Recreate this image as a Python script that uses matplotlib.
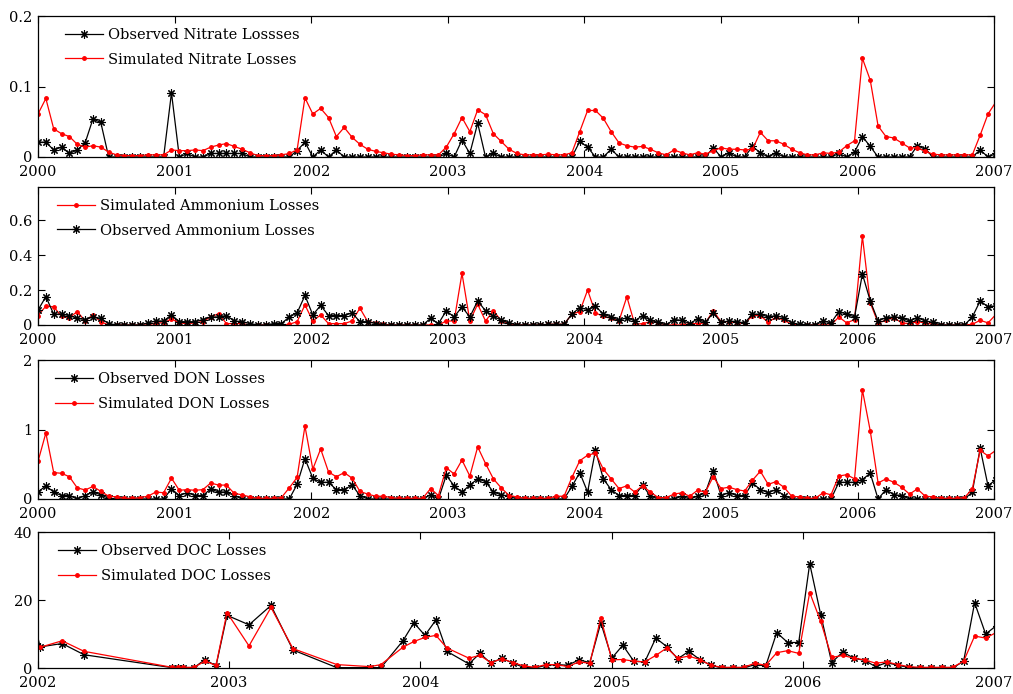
import numpy as np
import pandas as pd
import matplotlib
matplotlib.use('Agg')
import matplotlib.pyplot as plt
import matplotlib.dates as mdates

# samples every 21 days from 2000-01-01 (index k = 0..122)
start = pd.Timestamp('2000-01-01')
grid = pd.date_range(start, periods=123, freq='21D')

nitrate_obs = [
    0.021, 0.021, 0.010, 0.014, 0.005, 0.010, 0.020, 0.054, 0.049, 0,
    0, 0, 0, 0, 0, 0, 0, 0.091, 0, 0.005,
    0, 0, 0.005, 0.005, 0.005, 0.005, 0.005, 0, 0, 0,
    0, 0, 0, 0.009, 0.021, 0, 0.010, 0, 0.010, 0,
    0, 0, 0, 0, 0, 0, 0, 0, 0, 0,
    0, 0, 0.005, 0, 0.024, 0.005, 0.048, 0, 0.005, 0,
    0, 0, 0, 0, 0, 0, 0, 0, 0, 0.022,
    0.014, 0, 0, 0.011, 0, 0, 0, 0, 0, 0,
    0, 0, 0, 0, 0, 0, 0.013, 0, 0.006, 0,
    0, 0.015, 0.006, 0, 0.006, 0, 0, 0, 0, 0,
    0, 0, 0.005, 0, 0.007, 0.029, 0.015, 0, 0, 0,
    0, 0, 0.016, 0.011, 0, 0, 0, 0, 0, 0,
    0.010, 0, 0.005]
nitrate_sim = [
    0.061, 0.083, 0.040, 0.033, 0.029, 0.018, 0.014, 0.016, 0.014, 0.007,
    0.003, 0.002, 0.002, 0.002, 0.003, 0.003, 0.003, 0.010, 0.009, 0.009,
    0.010, 0.009, 0.014, 0.017, 0.019, 0.015, 0.011, 0.006, 0.002, 0.002,
    0.002, 0.003, 0.005, 0.010, 0.084, 0.061, 0.069, 0.056, 0.029, 0.042,
    0.028, 0.018, 0.011, 0.008, 0.006, 0.004, 0.003, 0.002, 0.002, 0.003,
    0.003, 0.003, 0.014, 0.033, 0.056, 0.036, 0.067, 0.060, 0.033, 0.022,
    0.011, 0.005, 0.003, 0.003, 0.003, 0.004, 0.003, 0.003, 0.006, 0.036,
    0.066, 0.066, 0.055, 0.036, 0.020, 0.016, 0.014, 0.015, 0.011, 0.006,
    0.003, 0.010, 0.006, 0.003, 0.006, 0.004, 0.009, 0.013, 0.011, 0.011,
    0.010, 0.011, 0.035, 0.023, 0.023, 0.018, 0.011, 0.006, 0.003, 0.003,
    0.006, 0.005, 0.007, 0.016, 0.023, 0.140, 0.109, 0.044, 0.029, 0.027,
    0.020, 0.013, 0.013, 0.008, 0.004, 0.003, 0.003, 0.003, 0.003, 0.003,
    0.031, 0.061, 0.078]

ammonium_sim = [
    0.054, 0.108, 0.104, 0.050, 0.042, 0.077, 0.023, 0.058, 0.019, 0,
    0, 0, 0, 0, 0, 0.012, 0.012, 0.035, 0.012, 0.008,
    0.012, 0.020, 0.046, 0.065, 0.008, 0.008, 0.008, 0, 0, 0,
    0, 0, 0.004, 0.019, 0.115, 0.023, 0.058, 0.008, 0.008, 0.008,
    0.023, 0.096, 0.019, 0.012, 0.004, 0, 0, 0, 0, 0,
    0, 0, 0.023, 0.023, 0.296, 0.023, 0.119, 0.023, 0.081, 0.025,
    0.008, 0, 0, 0, 0, 0.004, 0.004, 0.004, 0.062, 0.077,
    0.200, 0.069, 0.050, 0.038, 0.023, 0.162, 0.004, 0.008, 0.019, 0.012,
    0, 0, 0, 0.008, 0.008, 0.012, 0.081, 0.019, 0.019, 0.012,
    0.008, 0.054, 0.054, 0.015, 0.046, 0.027, 0.004, 0, 0, 0,
    0, 0, 0.046, 0.012, 0.031, 0.508, 0.127, 0.012, 0.027, 0.042,
    0.012, 0.008, 0.019, 0.012, 0.004, 0, 0, 0, 0, 0.004,
    0.027, 0.012, 0.060]
ammonium_obs = [
    0.085, 0.162, 0.062, 0.062, 0.054, 0.038, 0.031, 0.046, 0.038, 0.008,
    0, 0, 0, 0, 0.012, 0.023, 0.023, 0.058, 0.019, 0.019,
    0.019, 0.031, 0.046, 0.046, 0.054, 0.023, 0.019, 0.008, 0, 0,
    0.008, 0.008, 0.046, 0.069, 0.169, 0.058, 0.112, 0.054, 0.054, 0.054,
    0.069, 0.019, 0.019, 0.008, 0, 0, 0, 0, 0, 0,
    0.038, 0.008, 0.081, 0.046, 0.104, 0.046, 0.138, 0.081, 0.050, 0.027,
    0.012, 0, 0, 0, 0, 0.004, 0.004, 0.004, 0.062, 0.100,
    0.088, 0.108, 0.062, 0.046, 0.027, 0.042, 0.023, 0.054, 0.027, 0.015,
    0, 0.031, 0.027, 0.008, 0.035, 0.015, 0.069, 0.015, 0.023, 0.019,
    0.012, 0.062, 0.062, 0.046, 0.054, 0.042, 0.012, 0.004, 0, 0,
    0.023, 0.012, 0.077, 0.062, 0.046, 0.292, 0.138, 0.023, 0.042, 0.046,
    0.042, 0.023, 0.042, 0.023, 0.015, 0, 0, 0, 0, 0.046,
    0.138, 0.104, 0.110]

don_obs = [
    0.10, 0.19, 0.10, 0.05, 0.05, 0.0, 0.05, 0.10, 0.06, 0.01,
    0, 0, 0, 0, 0, 0, 0, 0.145, 0.05, 0.09,
    0.05, 0.05, 0.145, 0.10, 0.10, 0.05, 0, 0, 0, 0,
    0, 0, 0, 0.21, 0.58, 0.30, 0.24, 0.24, 0.135, 0.135,
    0.20, 0.05, 0, 0, 0, 0, 0, 0, 0, 0,
    0.06, 0, 0.34, 0.19, 0.10, 0.20, 0.29, 0.25, 0.10, 0.06,
    0.04, 0, 0, 0, 0, 0, 0, 0, 0.18, 0.38,
    0.10, 0.70, 0.29, 0.135, 0.05, 0.05, 0.05, 0.20, 0.04, 0,
    0, 0, 0.04, 0, 0.04, 0.09, 0.41, 0.05, 0.09, 0.05,
    0.05, 0.23, 0.135, 0.09, 0.135, 0.05, 0, 0, 0, 0,
    0, 0, 0.24, 0.24, 0.24, 0.28, 0.37, 0, 0.135, 0.06,
    0.05, 0, 0, 0, 0, 0, 0, 0, 0, 0.10,
    0.73, 0.19, 0.28]
don_sim = [
    0.54, 0.95, 0.38, 0.37, 0.32, 0.16, 0.13, 0.18, 0.11, 0.04,
    0.03, 0.01, 0.01, 0.02, 0.04, 0.10, 0.09, 0.30, 0.125, 0.135,
    0.125, 0.135, 0.23, 0.20, 0.20, 0.08, 0.06, 0.03, 0.01, 0.01,
    0.01, 0.02, 0.16, 0.31, 1.05, 0.43, 0.72, 0.39, 0.32, 0.38,
    0.30, 0.11, 0.07, 0.04, 0.04, 0.02, 0.01, 0.01, 0.01, 0.01,
    0.15, 0.05, 0.45, 0.36, 0.56, 0.33, 0.75, 0.51, 0.29, 0.16,
    0.05, 0.03, 0.01, 0.01, 0.01, 0.01, 0.04, 0.04, 0.31, 0.55,
    0.63, 0.66, 0.43, 0.29, 0.15, 0.19, 0.10, 0.19, 0.10, 0.02,
    0.02, 0.07, 0.09, 0.04, 0.125, 0.10, 0.32, 0.15, 0.17, 0.135,
    0.115, 0.27, 0.40, 0.21, 0.25, 0.17, 0.04, 0.03, 0.01, 0.01,
    0.09, 0.06, 0.33, 0.35, 0.29, 1.57, 0.98, 0.23, 0.29, 0.24,
    0.17, 0.07, 0.145, 0.04, 0.03, 0.01, 0.01, 0.01, 0.02, 0.145,
    0.70, 0.62, 0.70]

# DOC was sampled less often in 2002-2003 (sample index on the same 21-day schedule)
doc_k = [34, 35, 37, 39, 47, 47.5, 48, 49, 50, 51, 52, 54, 56, 58, 62, 65, 66, 68,
         69, 70, 71, 72] + list(range(74, 123))
doc_obs = [
    20.0, 6.2, 7.2, 3.9, 0.1, 0.1, 0.1, 0.1, 2.5, 0.6, 15.5, 12.7, 18.4, 5.3, 0.1, 0.1, 0.1, 8.0,
    13.3, 9.6, 14.1, 4.9,
    1.2, 4.3, 1.4, 2.9, 1.4, 0.2, 0, 0.8, 1.0, 0.8,
    2.4, 1.6, 13.3, 2.9, 6.7, 2.0, 1.8, 8.8, 6.3, 2.7,
    4.9, 2.5, 0.8, 0, 0, 0, 1.0, 0.6, 10.4, 7.5,
    7.5, 30.7, 15.7, 1.6, 4.7, 2.9, 2.2, 0.4, 1.6, 0.8,
    0.2, 0, 0, 0, 0, 2.0, 19.2, 10.0, 12.5]
doc_sim = [
    6.5, 6.1, 8.0, 4.9, 0.2, 0.2, 0.2, 0.2, 2.0, 0.8, 16.3, 6.5, 17.8, 5.7, 1.0, 0.4, 1.0, 6.1,
    7.8, 9.0, 9.6, 5.9,
    2.9, 3.7, 1.6, 2.7, 1.6, 0.6, 0.2, 1.0, 1.0, 0.4,
    1.8, 1.4, 14.7, 2.4, 2.5, 2.0, 1.8, 3.7, 5.9, 2.9,
    3.5, 2.5, 0.8, 0.2, 0.2, 0.2, 1.4, 0.8, 4.5, 5.1,
    4.3, 22.2, 13.7, 3.1, 3.7, 2.9, 2.4, 1.4, 1.8, 1.0,
    0.4, 0.2, 0.2, 0.2, 0.2, 2.0, 9.4, 8.8, 10.5]
doc_dates = start + pd.to_timedelta(np.array(doc_k) * 21, unit='D')

plt.rcParams['font.family'] = 'DejaVu Serif'
FS = 10.5

fig = plt.figure(figsize=(10.13, 6.94), dpi=100)
W, H = 1013.0, 694.0
left, right = 38, 994
boxes = [(16, 157), (187, 325), (360, 499), (532, 668)]
axes = [fig.add_axes([left / W, 1 - b / H, (right - left) / W, (b - t) / H]) for t, b in boxes]

# matlab-like asterisk for observed, small dot for simulated
obs_kw = dict(color='black', marker=(8, 2, 0), markersize=6, markeredgewidth=0.8, lw=0.9)
sim_kw = dict(color='red', marker='.', markersize=5, lw=0.9)

ax = axes[0]
ax.plot(grid, nitrate_obs, label='Observed Nitrate Lossses', **obs_kw)
ax.plot(grid, nitrate_sim, label='Simulated Nitrate Losses', **sim_kw)
ax.set_ylim(0, 0.2)
ax.set_yticks([0, 0.1, 0.2])
ax.set_yticklabels(['0', '0.1', '0.2'])

ax = axes[1]
ax.plot(grid, ammonium_sim, label='Simulated Ammonium Losses', **sim_kw)
ax.plot(grid, ammonium_obs, label='Observed Ammonium Losses', **obs_kw)
ax.set_ylim(0, 0.79)
ax.set_yticks([0, 0.2, 0.4, 0.6])
ax.set_yticklabels(['0', '0.2', '0.4', '0.6'])

ax = axes[2]
ax.plot(grid, don_obs, label='Observed DON Losses', **obs_kw)
ax.plot(grid, don_sim, label='Simulated DON Losses', **sim_kw)
ax.set_ylim(0, 2)
ax.set_yticks([0, 1, 2])

ax = axes[3]
ax.plot(doc_dates, doc_obs, label='Observed DOC Losses', **obs_kw)
ax.plot(doc_dates, doc_sim, label='Simulated DOC Losses', **sim_kw)
ax.set_ylim(0, 40)
ax.set_yticks([0, 20, 40])

leg_x = [0.016, 0.008, 0.006, 0.009]
for i, ax in enumerate(axes):
    y0 = 2002 if i == 3 else 2000
    ax.set_xlim(pd.Timestamp(f'{y0}-01-01'), pd.Timestamp('2007-01-01'))
    ax.set_xticks([pd.Timestamp(f'{y}-01-01') for y in range(y0, 2008)])
    ax.xaxis.set_major_formatter(mdates.DateFormatter('%Y'))
    ax.tick_params(direction='in', top=True, right=True, length=5, width=0.8,
                   labelsize=FS)
    ax.tick_params(axis='x', pad=6)
    ax.tick_params(axis='y', pad=4)
    for s in ax.spines.values():
        s.set_linewidth(0.9)
    ax.legend(loc='upper left', frameon=False, fontsize=FS, handlelength=2.6,
              handletextpad=0.35, labelspacing=0.75, borderaxespad=0.4,
              bbox_to_anchor=(leg_x[i], 1.0))

fig.savefig('out.png', dpi=100)
